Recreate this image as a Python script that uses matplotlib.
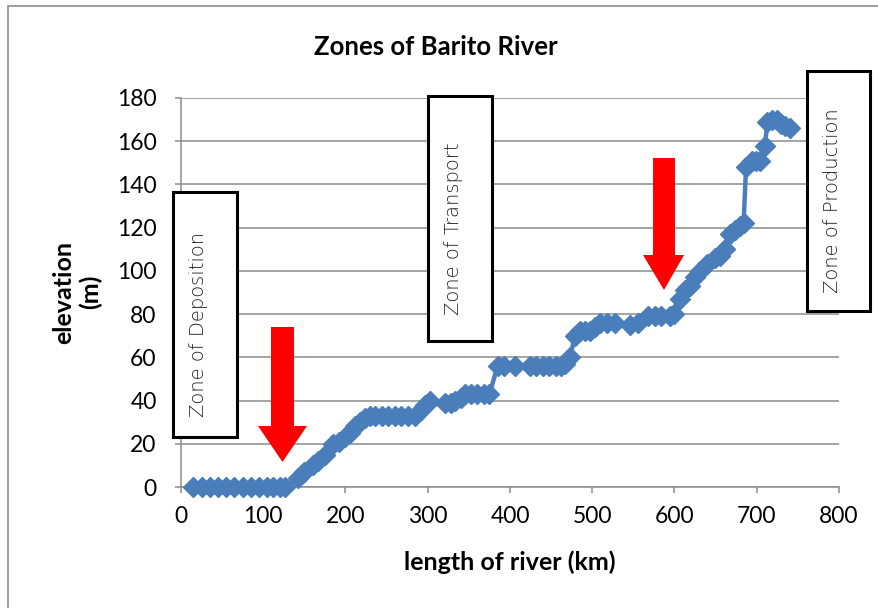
import matplotlib
matplotlib.use("Agg")
import matplotlib.pyplot as plt
from matplotlib.patches import Rectangle, Polygon

# river profile (km, m)
length_km = [15, 25, 35, 45, 55, 65, 75, 85, 95, 105, 112, 120, 127,
             142, 150, 160, 167, 175, 185, 192, 199, 206, 212, 218, 224,
             230, 236, 244, 252, 260, 268, 276, 284, 290, 297, 303,
             321, 328, 333, 340, 345, 352, 360, 368, 375,
             385, 393, 406, 424, 432, 440, 448, 456, 462, 467, 473,
             479, 485, 491, 497, 503, 509, 518, 528, 546, 556, 568, 576,
             584, 594, 600, 607, 613, 619, 625, 631, 640, 649, 655, 661,
             667, 673, 680, 684, 687, 694, 699, 704, 710, 713, 718, 725,
             730, 734, 740]
elevation_m = [0, 0, 0, 0, 0, 0, 0, 0, 0, 0, 0, 0, 0,
               4, 7, 10, 12, 15, 20, 21, 23, 25, 28, 30, 32,
               33, 33, 33, 33, 33, 33, 33, 33, 35, 38, 40,
               39, 39, 40, 41, 43, 43, 43, 43, 43,
               56, 56, 56, 56, 56, 56, 56, 56, 56, 57, 60,
               70, 72, 72, 72, 74, 76, 76, 76, 75, 76, 79, 79,
               79, 79, 80, 87, 91, 93, 97, 100, 103, 106, 107, 110,
               117, 119, 121, 122, 148, 151, 151, 151, 158, 169, 170, 170,
               168, 167, 166]

zones = ["Zone of Deposition", "Zone of Transport", "Zone of Production"]

W, H = 879, 608
fig = plt.figure(figsize=(W / 100, H / 100), dpi=100)


def fx(x):
    return x / W


def fy(y):
    return 1 - y / H


# outer chart border
fig.patches.append(Rectangle((fx(8), fy(620)), fx(900), fy(6) - fy(620),
                             transform=fig.transFigure, fill=False,
                             edgecolor="#8c8c8c", lw=1.2))

ax = fig.add_axes([fx(181), fy(487), fx(839) - fx(181), fy(98) - fy(487)])
ax.set_xlim(0, 800)
ax.set_ylim(0, 180)
ax.set_xticks(range(0, 801, 100))
ax.set_yticks(range(0, 181, 20))
ax.grid(axis="y", color="#8c8c8c", lw=1.1)
ax.set_axisbelow(True)
for s in ["top", "right"]:
    ax.spines[s].set_visible(False)
for s in ["left", "bottom"]:
    ax.spines[s].set_color("#8c8c8c")
    ax.spines[s].set_linewidth(1.1)
ax.tick_params(colors="#8c8c8c", length=4.5, width=1.1, labelcolor="black",
               labelsize=16.5)
ax.tick_params(axis="y", pad=13)
ax.tick_params(axis="x", pad=9)
for lab in ax.get_xticklabels() + ax.get_yticklabels():
    lab.set_family("Lato")

ax.plot(length_km, elevation_m, color="#4a7ebb", lw=3.2, marker="D",
        markersize=10, markeredgecolor="#4a7ebb", clip_on=False, zorder=3)

fig.text(fx(436), fy(47), "Zones of Barito River", ha="center", va="center",
         fontsize=18.5, fontweight="bold", family="Lato")
fig.text(fx(510), fy(562), "length of river (km)", ha="center", va="center",
         fontsize=18, fontweight="bold", family="Lato")
fig.text(fx(77), fy(292), "elevation\n(m)", ha="center", va="center",
         rotation=90, fontsize=18, fontweight="bold", family="Lato",
         linespacing=1.2)

# zone boxes (left, top, right, bottom in pixels)
boxes = [(173, 192, 237, 437), (428, 96, 492, 341), (807, 71, 870, 311)]
for name, (l, t, r, b) in zip(zones, boxes):
    fig.patches.append(Rectangle((fx(l), fy(b)), fx(r) - fx(l), fy(t) - fy(b),
                                 transform=fig.transFigure, facecolor="white",
                                 edgecolor="black", lw=2.2, zorder=5))
    fig.text(fx((l + r) / 2 - 6), fy((t + b) / 2 + 10), name, rotation=90,
             ha="center", va="center", fontsize=14, family="DejaVu Sans",
             fontweight="light", color="#222222", zorder=6)

# red arrows (shaft left, shaft right, shaft top, head left, head right, head top, tip)
arrows = [(271, 294, 327, 258, 307, 426, 462), (653, 675, 158, 643, 684, 255, 290)]
for sl, sr, st, hl, hr, ht, tip in arrows:
    pts = [(sl, st), (sr, st), (sr, ht), (hr, ht), ((sl + sr) / 2, tip),
           (hl, ht), (sl, ht)]
    fig.patches.append(Polygon([(fx(x), fy(y)) for x, y in pts], closed=True,
                               transform=fig.transFigure, facecolor="red",
                               edgecolor="none", zorder=7))

fig.savefig("out.png", dpi=100)
